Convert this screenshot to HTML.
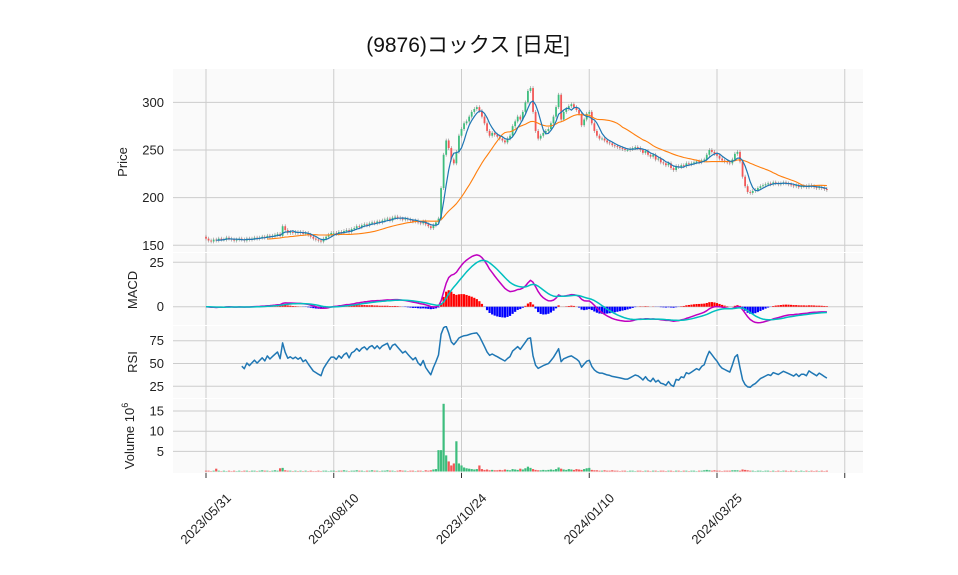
<!DOCTYPE html>
<html><head><meta charset="utf-8">
<style>
html,body{margin:0;padding:0;background:#fff;}
svg{display:block;font-family:"Liberation Sans","DejaVu Sans","Noto Sans CJK JP",sans-serif;}
</style></head>
<body>
<svg id="chart" width="958" height="575" viewBox="0 0 958 575" xmlns="http://www.w3.org/2000/svg">
<text x="468" y="52" font-size="21" text-anchor="middle" fill="#111" font-family="'Liberation Sans','Noto Sans CJK JP',sans-serif">(9876)コックス  [日足]</text>
<g id="g"></g>
</svg>
<script>
const closes=[157,155,154,156,155,157,156,156,158,157,
156,155,156,157,156,155,157,156,157,158,
157,158,159,158,160,159,160,161,162,160,
170,166,163,164,163,164,163,164,162,163,
161,159,157,156,155,154,157,159,161,163,
163,162,164,163,165,166,164,167,168,170,
169,171,172,171,173,174,173,175,174,176,
177,178,176,179,180,179,178,177,178,177,
176,175,176,174,173,175,172,170,168,171,
174,178,210,245,260,252,240,236,248,265,
272,278,280,285,290,293,295,291,285,278,
270,265,268,266,264,262,260,258,262,265,
275,280,285,282,290,300,312,315,290,270,
262,265,268,270,272,278,285,295,308,282,
290,293,296,298,295,292,288,276,282,288,
290,278,270,265,262,262,260,258,257,255,
254,253,252,251,250,250,251,252,253,252,
250,247,249,245,243,245,240,241,237,236,
234,236,231,229,233,232,234,233,236,235,
236,237,238,237,239,240,245,250,248,246,
244,241,239,238,237,236,240,246,248,238,
222,212,206,205,207,208,210,212,213,214,
215,214,216,215,214,215,216,215,214,213,
212,213,211,212,212,211,213,212,211,210,
211,210,209,208];
const volumes=[0.2,0.2,0.1,0.2,0.7,0.2,0.1,0.2,0.1,0.2,
0.1,0.2,0.1,0.2,0.1,0.2,0.2,0.1,0.2,0.2,
0.1,0.2,0.3,0.2,0.2,0.1,0.2,0.3,0.2,0.8,
0.9,0.3,0.2,0.2,0.1,0.2,0.1,0.2,0.1,0.2,
0.1,0.2,0.1,0.1,0.2,0.1,0.2,0.2,0.1,0.2,
0.2,0.1,0.2,0.2,0.3,0.2,0.1,0.2,0.2,0.3,
0.2,0.2,0.1,0.2,0.2,0.3,0.2,0.2,0.1,0.2,
0.2,0.3,0.2,0.2,0.1,0.2,0.3,0.2,0.2,0.1,
0.2,0.2,0.1,0.2,0.2,0.1,0.3,0.2,0.3,0.5,
0.6,5.3,5.3,16.8,4.0,2.5,1.5,2.0,7.5,2.0,
1.5,1.0,0.8,0.7,0.6,0.5,0.6,1.5,0.6,0.4,
0.5,0.3,0.4,0.3,0.3,0.4,0.3,0.5,0.4,0.3,
0.6,0.5,0.4,0.7,0.5,0.8,1.2,0.9,0.6,0.4,
0.3,0.3,0.4,0.3,0.4,0.5,0.4,0.6,1.0,0.7,
0.5,0.4,0.6,0.5,0.4,0.6,0.5,0.4,0.6,0.8,
0.9,0.4,0.3,0.3,0.2,0.2,0.3,0.2,0.2,0.3,
0.2,0.2,0.1,0.2,0.2,0.1,0.2,0.2,0.1,0.2,
0.2,0.1,0.2,0.2,0.1,0.2,0.2,0.1,0.2,0.2,
0.1,0.2,0.2,0.1,0.2,0.2,0.1,0.2,0.2,0.1,
0.2,0.2,0.1,0.2,0.2,0.3,0.4,0.3,0.2,0.3,
0.2,0.2,0.1,0.2,0.2,0.2,0.3,0.3,0.3,0.2,
0.5,0.4,0.3,0.2,0.2,0.1,0.2,0.2,0.1,0.2,
0.2,0.1,0.2,0.1,0.2,0.1,0.2,0.2,0.1,0.2,
0.1,0.2,0.1,0.2,0.1,0.2,0.1,0.2,0.1,0.2,
0.1,0.2,0.1,0.2];
const xTickLabels=["2023/05/31","2023/08/10","2023/10/24","2024/01/10","2024/03/25",""];
const xTickIndex=[0,50,100,150,200,250];
const priceTicks=[150,200,250,300];
const macdTicks=[0,25];
const rsiTicks=[25,50,75];
const volTicks=[5,10,15];

const NS="http://www.w3.org/2000/svg";
const G=document.getElementById('g');
function mk(tag,attrs,parent){const e=document.createElementNS(NS,tag);for(const k in attrs)e.setAttribute(k,attrs[k]);(parent||G).appendChild(e);return e;}
const L=173,R=863;
const X=i=>206+i*2.555;
const P={top:69,bot:252,y:v=>245.3-(v-150)*0.953};
const M={top:253,bot:325,y:v=>306.7-v*1.776};
const Rs={top:326,bot:398,y:v=>386.3-(v-25)*0.912};
const V={top:399,bot:473,y:v=>471.5-v*4.03};
const n=closes.length;
const opens=closes.map((c,i)=>i===0?c+2:closes[i-1]);
function sma(a,p){return a.map((v,i)=>{if(i<p-1)return null;let s=0;for(let k=i-p+1;k<=i;k++)s+=a[k];return s/p;});}
function ema(a,p){const k=2/(p+1);let r=[];a.forEach((v,i)=>{r.push(i===0?v:v*k+r[i-1]*(1-k));});return r;}
const ma5=sma(closes,5),ma25=sma(closes,25);
const e12=ema(closes,12),e26=ema(closes,26);
const macd=e12.map((v,i)=>v-e26[i]);
const sig=ema(macd,9);
const hist=macd.map((v,i)=>v-sig[i]);
const rsi=new Array(n).fill(null);
{let ag=0,al=0;for(let i=1;i<=14;i++){const d=closes[i]-closes[i-1];if(d>0)ag+=d;else al-=d;}ag/=14;al/=14;rsi[14]=100-100/(1+ag/(al||1e-9));
for(let i=15;i<n;i++){const d=closes[i]-closes[i-1];ag=(ag*13+Math.max(d,0))/14;al=(al*13+Math.max(-d,0))/14;rsi[i]=100-100/(1+ag/(al||1e-9));}}

const defs=mk('defs',{});
[P,M,Rs,V].forEach((pn,k)=>{
  const bg=mk('rect',{x:L,y:pn.top,width:R-L,height:pn.bot-pn.top,fill:'#fafafa'});
  
  
  const cp=mk('clipPath',{id:'c'+k},defs);mk('rect',{x:L,y:pn.top,width:R-L,height:pn.bot-pn.top},cp);
  pn.clip='url(#c'+k+')';
  xTickIndex.forEach(i=>{mk('line',{x1:X(i),x2:X(i),y1:pn.top,y2:pn.bot,stroke:'#cccccc','stroke-width':1});});
});
function hgrid(pn,ticks){ticks.forEach(t=>{const y=pn.y(t);mk('line',{x1:L,x2:R,y1:y,y2:y,stroke:'#cccccc','stroke-width':1});
  const tx=mk('text',{x:164,y:y+4.5,'font-size':13,'text-anchor':'end',fill:'#222'});tx.textContent=t;
  
  });}
hgrid(P,priceTicks);hgrid(M,macdTicks);hgrid(Rs,rsiTicks);hgrid(V,volTicks);
function ylab(x,y,txt,name){const t=mk('text',{x:x,y:y,'font-size':13,'text-anchor':'middle',fill:'#222',transform:`rotate(-90 ${x} ${y})`});t.textContent=txt;
  
  return t;}
ylab(127,162,'Price','price-axis-title');ylab(137,290,'MACD','macd-axis-title');ylab(137,362,'RSI','rsi-axis-title');
const vt=ylab(134,436,'Volume  10','volume-axis-title');
const sup=mk('tspan',{dy:-6,'font-size':9},vt);sup.textContent='6';

const gc=mk('g',{'clip-path':P.clip});


for(let i=0;i<n;i++){const o=opens[i],c=closes[i];const up=c>=o;const hi=Math.max(o,c)+2,lo=Math.min(o,c)-2;
  mk('line',{x1:X(i),x2:X(i),y1:P.y(hi),y2:P.y(lo),stroke:'#888','stroke-width':0.6},gc);
  const y1=P.y(Math.max(o,c)),y2=P.y(Math.min(o,c));
  const r=mk('rect',{x:X(i)-0.9,y:y1,width:1.8,height:Math.max(0.8,y2-y1),fill:up?'#3dbd7d':'#f25757'},gc);
  
  }
function line(arr,pn,color,w,name){let d='';arr.forEach((v,i)=>{if(v==null)return;d+=(d?'L':'M')+X(i).toFixed(1)+' '+pn.y(v).toFixed(1);});
  const p=mk('path',{d:d,fill:'none',stroke:color,'stroke-width':w,'clip-path':pn.clip,'stroke-linejoin':'round'});
  
  }
line(ma25,P,'#ff7f0e',1.1,'ma25-line');
line(ma5,P,'#1f77b4',1.2,'ma5-line');
const gh=mk('g',{'clip-path':M.clip});
hist.forEach((h,i)=>{const y0=M.y(0),y=M.y(h);const r=mk('rect',{x:X(i)-1.1,y:Math.min(y0,y),width:2.2,height:Math.abs(y-y0),fill:h>=0?'#ff0000':'#0000ff'},gh);
  
  });
line(macd,M,'#c000c0',1.5,'macd-line');
line(sig,M,'#00bfbf',1.5,'signal-line');
line(rsi,Rs,'#1f77b4',1.5,'rsi-line');
volumes.forEach((v,i)=>{const up=closes[i]>=opens[i];const y=V.y(v);
  const r=mk('rect',{x:X(i)-1.1,y:y,width:2.2,height:V.y(0)-y,fill:up?'#3dbd7d':'#f25757','clip-path':V.clip});
  
  });
xTickIndex.forEach((i,k)=>{const x=X(i);mk('line',{x1:x,x2:x,y1:473,y2:478,stroke:'#333','stroke-width':1});
  if(xTickLabels[k]){const t=mk('text',{x:x,y:523,'font-size':13,'text-anchor':'middle',fill:'#222',transform:`rotate(-45 ${x} 519)`});t.textContent=xTickLabels[k];
  
  }});
</script>
</body></html>
